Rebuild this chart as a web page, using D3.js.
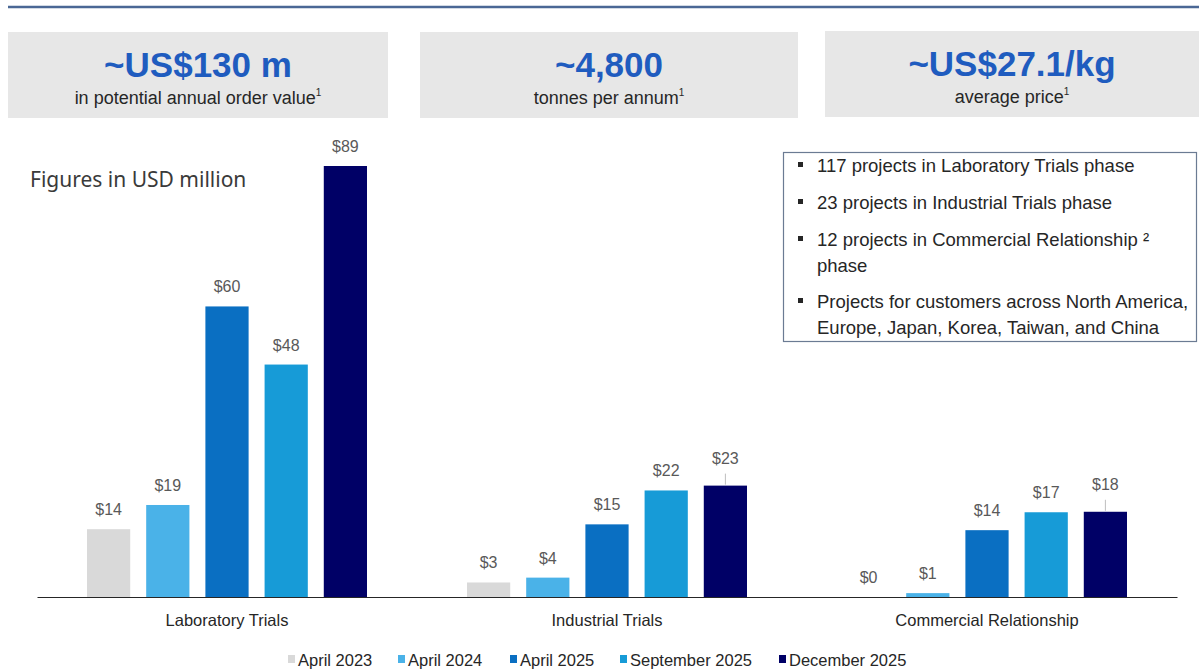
<!DOCTYPE html>
<html>
<head>
<meta charset="utf-8">
<script src="https://cdn.jsdelivr.net/npm/d3@7"></script>
<style>
  html, body { margin: 0; padding: 0; background: #fff; }
  svg { display: block; }
  .narrow { font-family: "Liberation Sans Narrow", "Arial Narrow", "Liberation Sans", Arial, sans-serif; }
</style>
</head>
<body>
<svg id="chart" width="1199" height="670"></svg>
<script>
const categories = ["Laboratory Trials", "Industrial Trials", "Commercial Relationship"];
const seriesNames = ["April 2023", "April 2024", "April 2025", "September 2025", "December 2025"];
const april2023 = [14, 3, 0];
const april2024 = [19, 4, 0.8];
const april2025 = [60, 15, 13.8];
const september2025 = [48, 22, 17.5];
const december2025 = [89, 23, 17.6];
const valueLabels = [
  ["$14", "$3", "$0"],
  ["$19", "$4", "$1"],
  ["$60", "$15", "$14"],
  ["$48", "$22", "$17"],
  ["$89", "$23", "$18"]
];
const seriesColors = ["#d9d9d9", "#4ab2e8", "#0a6fc2", "#179bd7", "#000066"];
const kpiValues = ["~US$130 m", "~4,800", "~US$27.1/kg"];
const kpiSubtitles = ["in potential annual order value", "tonnes per annum", "average price"];
const bulletLines = [
  ["117 projects in Laboratory Trials phase"],
  ["23 projects in Industrial Trials phase"],
  ["12 projects in Commercial Relationship \u00b2", "phase"],
  ["Projects for customers across North America,", "Europe, Japan, Korea, Taiwan, and China"]
];

const seriesValues = [april2023, april2024, april2025, september2025, december2025];

const svg = d3.select("#chart");
const NARROW = "narrow";

// top rule
svg.append("line").attr("x1", 8).attr("x2", 1199).attr("y1", 7).attr("y2", 7)
  .attr("stroke", "#4a6795").attr("stroke-width", 2.5);

// KPI boxes
const boxes = [
  {x: 8, y: 32, w: 380, h: 86},
  {x: 420, y: 32, w: 378, h: 86},
  {x: 825, y: 31, w: 374, h: 86}
];
boxes.forEach((b, i) => {
  svg.append("rect").attr("x", b.x).attr("y", b.y).attr("width", b.w).attr("height", b.h).attr("fill", "#e7e7e7");
  const cx = b.x + b.w / 2;
  svg.append("text").attr("class", NARROW).attr("x", cx).attr("y", b.y + 45)
    .attr("text-anchor", "middle").attr("font-size", 35).attr("font-weight", "bold")
    .attr("fill", "#1f5cbf").text(kpiValues[i]);
  const t = svg.append("text").attr("class", NARROW).attr("x", cx).attr("y", b.y + 72)
    .attr("text-anchor", "middle").attr("font-size", 18).attr("fill", "#262626");
  t.append("tspan").text(kpiSubtitles[i]);
  t.append("tspan").attr("font-size", 10).attr("dy", -8).text("1");
});

// Figures note
svg.append("text").attr("x", 30).attr("y", 187)
  .attr("font-family", "'Noto Sans', 'Open Sans', sans-serif")
  .attr("font-size", 21).attr("fill", "#3a3a3a").text("Figures in USD million");

// chart scales
const baseY = 597;
const x0 = d3.scaleBand().domain(categories).range([37, 1177]).padding(0);
const inner = d3.scaleBand().domain(seriesNames).range([0, 280]).paddingInner(0.27).paddingOuter(0);
const y = d3.scaleLinear().domain([0, 89]).range([baseY, 166]);

const groups = svg.append("g").selectAll("g").data(categories).join("g")
  .attr("transform", d => `translate(${x0(d) + x0.bandwidth() / 2 - 140},0)`);

seriesNames.forEach((s, si) => {
  groups.append("rect")
    .attr("x", inner(s))
    .attr("y", (d, ci) => y(seriesValues[si][ci]))
    .attr("width", inner.bandwidth())
    .attr("height", (d, ci) => baseY - y(seriesValues[si][ci]))
    .attr("fill", seriesColors[si]);
  groups.each(function(d, ci) {
    const g = d3.select(this);
    const v = seriesValues[si][ci];
    const cx = inner(s) + inner.bandwidth() / 2;
    const leader = (si === 4 && ci > 0);
    const top = y(v);
    if (leader) {
      g.append("line").attr("x1", cx).attr("x2", cx).attr("y1", top - 1).attr("y2", top - 12)
        .attr("stroke", "#bfbfbf").attr("stroke-width", 1);
    }
    g.append("text").attr("class", NARROW)
      .attr("x", cx).attr("y", top - (leader ? 22 : 14))
      .attr("text-anchor", "middle").attr("font-size", 16).attr("fill", "#595959")
      .text(valueLabels[si][ci]);
  });
});

// x axis
const xAxis = svg.append("g").attr("transform", `translate(0,${baseY})`)
  .call(d3.axisBottom(x0).tickSize(0).tickPadding(17));
xAxis.select(".domain").attr("stroke", "#262626").attr("stroke-width", 1.2);
xAxis.selectAll(".tick text").attr("class", NARROW).attr("font-size", 16.5).attr("fill", "#262626");

// legend
const legendX = [288, 398, 510, 620, 779];
const legend = svg.append("g").attr("class", NARROW);
seriesNames.forEach((s, i) => {
  legend.append("rect").attr("x", legendX[i]).attr("y", 655).attr("width", 7).attr("height", 8).attr("fill", seriesColors[i]);
  legend.append("text").attr("x", legendX[i] + 10).attr("y", 666).attr("font-size", 16.5).attr("fill", "#262626").text(s);
});

// info box
svg.append("rect").attr("x", 783.5).attr("y", 152.5).attr("width", 413).attr("height", 189)
  .attr("fill", "#fff").attr("stroke", "#6b7b93").attr("stroke-width", 1.2);
const lineYs = [[172], [209], [246, 272], [308, 334]];
bulletLines.forEach((lines, i) => {
  svg.append("rect").attr("x", 798).attr("y", lineYs[i][0] - 10).attr("width", 5).attr("height", 5).attr("fill", "#262626");
  lines.forEach((ln, j) => {
    svg.append("text").attr("class", NARROW).attr("x", 817).attr("y", lineYs[i][j])
      .attr("font-size", 18.5).attr("fill", "#262626").text(ln);
  });
});
</script>
</body>
</html>
